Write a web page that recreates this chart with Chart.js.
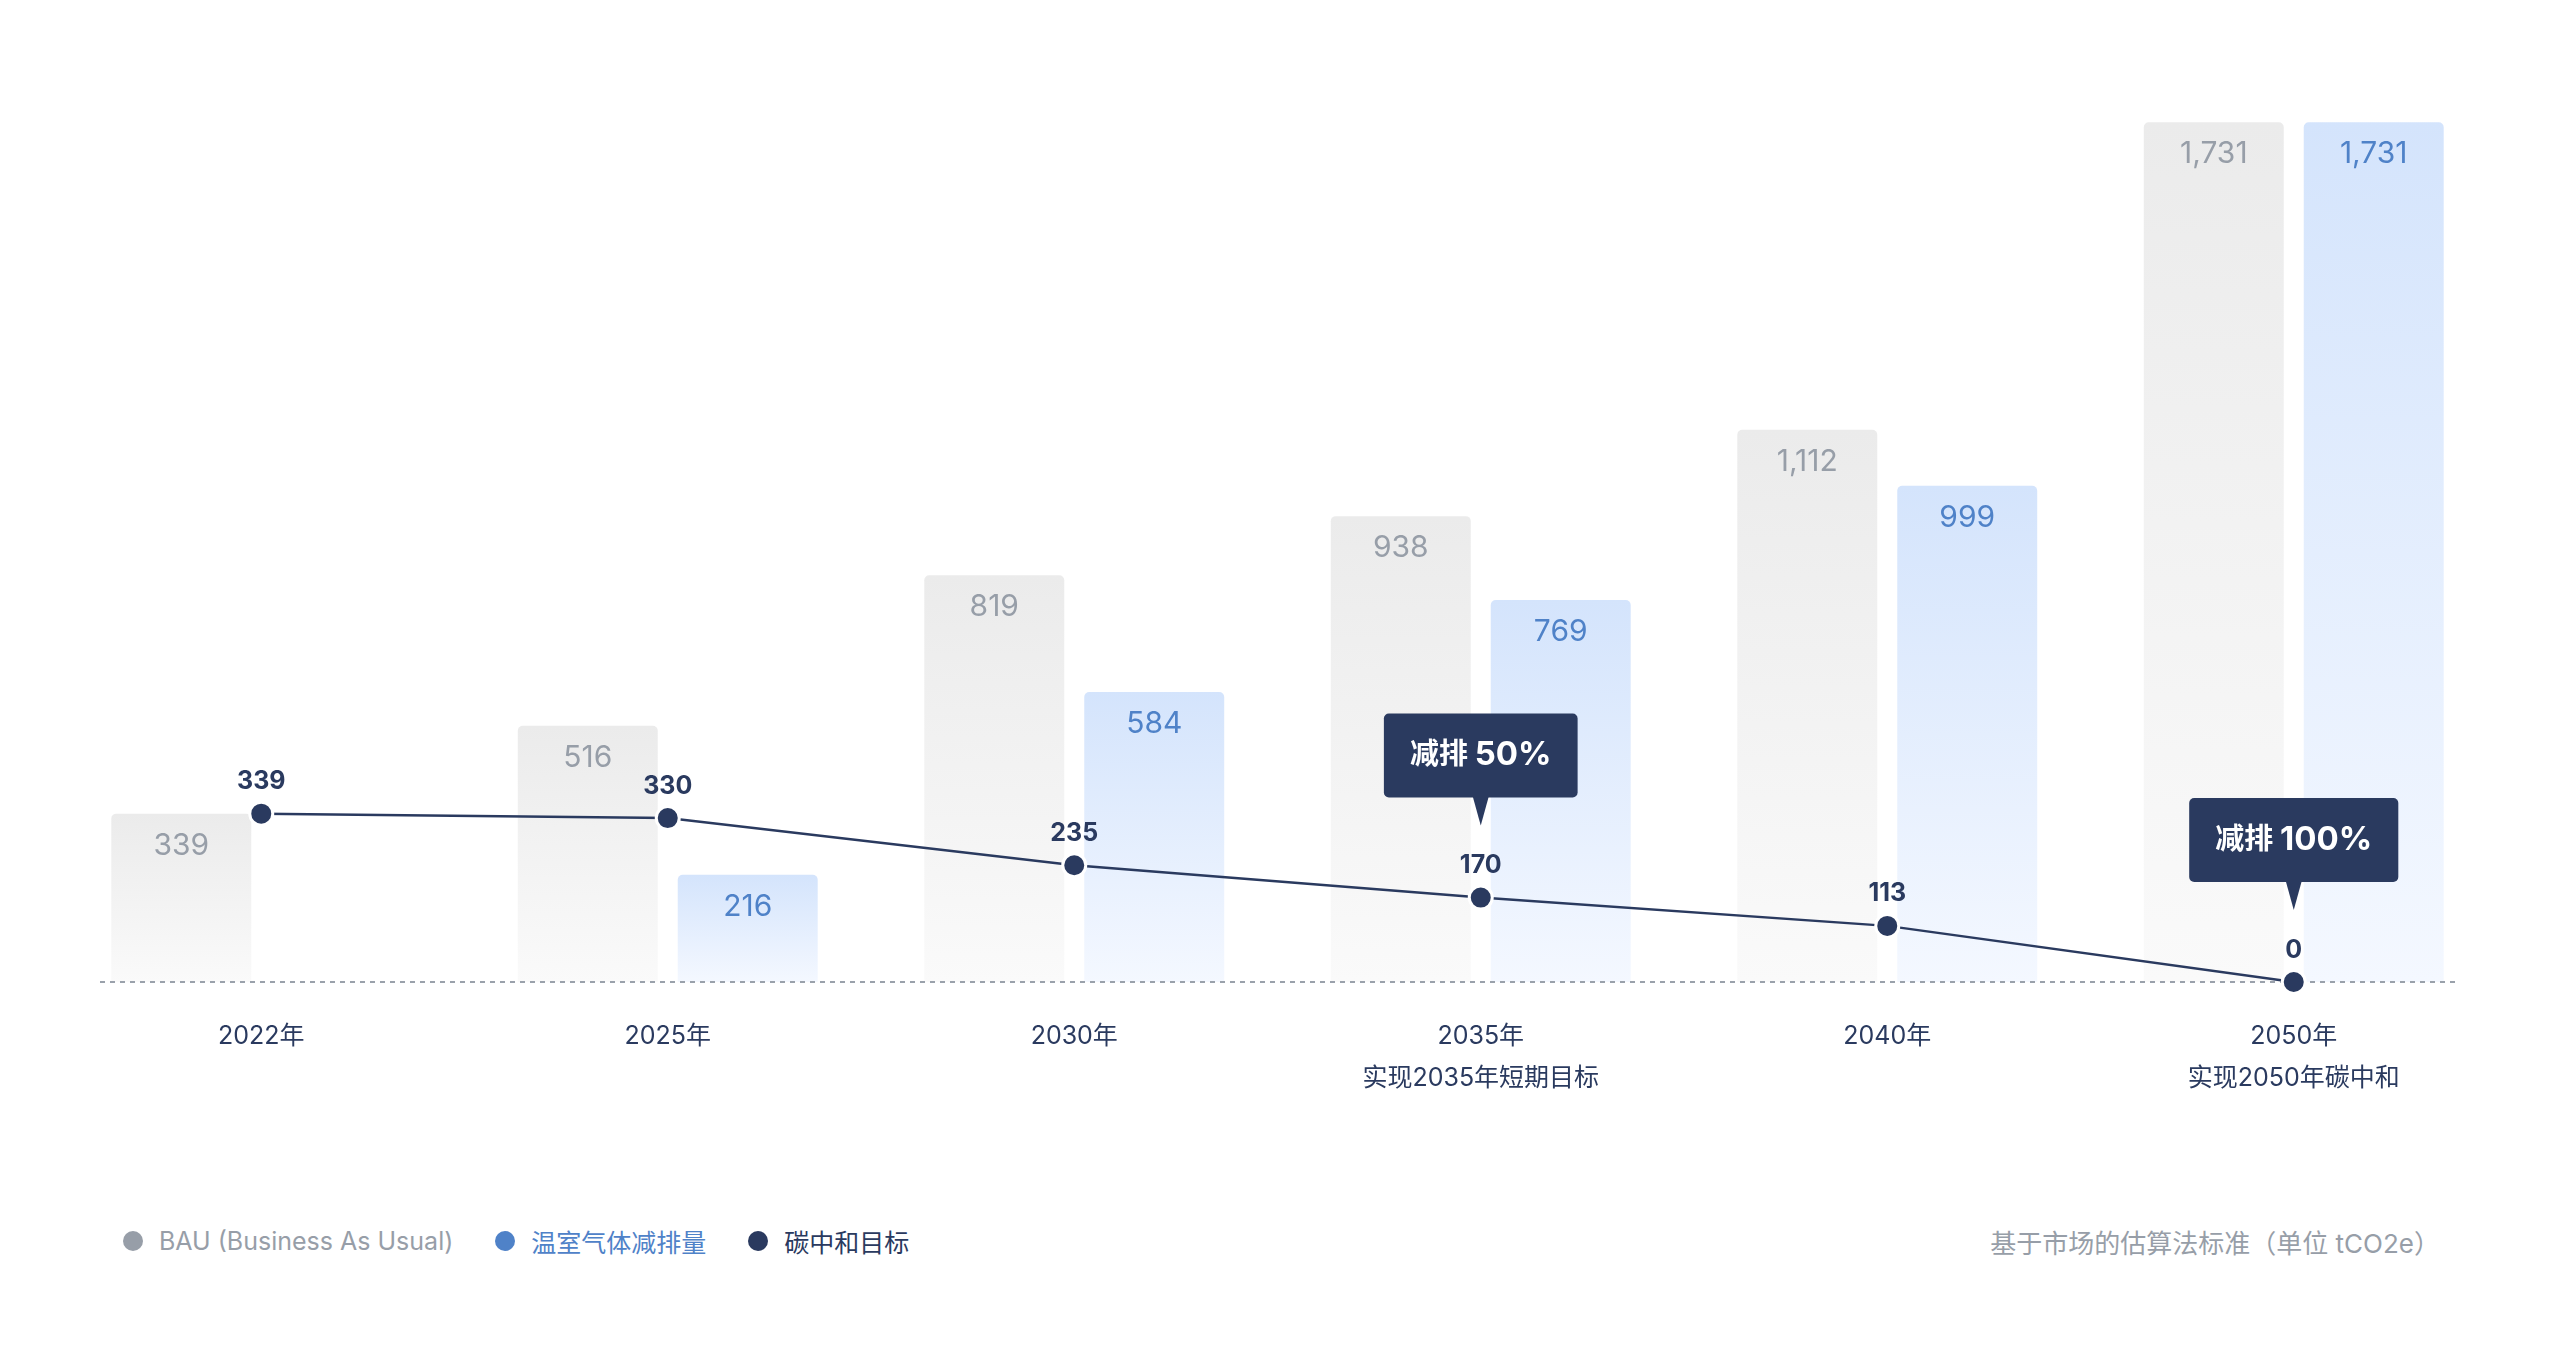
<!DOCTYPE html>
<html>
<head>
<meta charset="utf-8">
<script src="https://cdn.jsdelivr.net/npm/chart.js@4"></script>
<style>
  html, body { margin: 0; padding: 0; background: #fff; }
  body { width: 2560px; height: 1348px; position: relative; overflow: hidden;
         font-family: Inter, "Noto Sans CJK SC", sans-serif; }
  #wrap { position: absolute; left: 0; top: 0; width: 2560px; height: 1160px; }
  .legend { position: absolute; left: 123px; top: 1223px; display: flex; align-items: center; font-size: 25px; }
  .legend span.item { display: flex; align-items: center; margin-right: 42px; }
  .legend i { display: inline-block; width: 20px; height: 20px; border-radius: 50%; margin-right: 16px; }
  .note { position: absolute; right: 120px; top: 1223px; font-size: 26px; color: #979ea8; }
</style>
</head>
<body>
<div id="wrap"><canvas id="chart"></canvas></div>
<div class="legend">
  <span class="item" style="color:#979ea8"><i style="background:#979ea8"></i>BAU (Business As Usual)</span>
  <span class="item" style="color:#4f82c8"><i style="background:#4f82c8"></i>温室气体减排量</span>
  <span class="item" style="color:#2a3a5f"><i style="background:#2a3a5f"></i>碳中和目标</span>
</div>
<div class="note">基于市场的估算法标准（单位 tCO2e）</div>

<script>
// data
const years = ['2022年', '2025年', '2030年', '2035年', '2040年', '2050年'];
const subLabels = ['', '', '', '实现2035年短期目标', '', '实现2050年碳中和'];
const bauValues = [339, 516, 819, 938, 1112, 1731];
const reductionValues = [null, 216, 584, 769, 999, 1731];
const targetValues = [339, 330, 235, 170, 113, 0];
const callouts = [
  { index: 3, pre: '减排 ', big: '50%' },
  { index: 5, pre: '减排 ', big: '100%' }
];

const navy = '#2a3a5f';
const grayText = '#979ea8';
const blueText = '#4f82c8';
const fontFam = 'Inter, "Noto Sans CJK SC", sans-serif';

const labels = years.map((y, i) => subLabels[i] ? [y, subLabels[i]] : [y]);

// gradient per bar, from its top down to the baseline
function barGradient(top, bottom) {
  return (ctx) => {
    const chart = ctx.chart;
    if (!chart.chartArea || ctx.raw == null) return top;
    const y = chart.scales.y;
    const g = chart.ctx.createLinearGradient(0, y.getPixelForValue(ctx.raw), 0, y.getPixelForValue(0));
    g.addColorStop(0, top);
    g.addColorStop(1, bottom);
    return g;
  };
}

const fmt = (v) => v.toLocaleString('en-US');

const overlay = {
  id: 'overlay',
  afterDatasetDraw(chart, args) {
    if (args.index !== 0) return;
    // dashed baseline, drawn after the bars and under the line
    const c = chart.ctx;
    const y0 = chart.scales.y.getPixelForValue(0);
    c.save();
    c.strokeStyle = '#9aa1ab';
    c.lineWidth = 2;
    c.setLineDash([5, 5]);
    c.beginPath();
    c.moveTo(100, y0);
    c.lineTo(2460, y0);
    c.stroke();
    c.restore();
  },
  afterDatasetsDraw(chart) {
    const c = chart.ctx;
    c.save();
    c.textAlign = 'center';
    c.textBaseline = 'middle';
    // bar labels
    [[0, grayText], [1, blueText]].forEach(([di, color]) => {
      const meta = chart.getDatasetMeta(di);
      const data = chart.data.datasets[di].data;
      c.fillStyle = color;
      c.font = '30px ' + fontFam;
      meta.data.forEach((bar, i) => {
        if (data[i] == null) return;
        c.fillText(fmt(data[i]), bar.x, bar.y + 32);
      });
    });
    // line labels
    const lm = chart.getDatasetMeta(2);
    c.fillStyle = navy;
    c.font = 'bold 25px ' + fontFam;
    lm.data.forEach((p, i) => {
      c.fillText(String(targetValues[i]), p.x, p.y - 32);
    });
    // callouts
    callouts.forEach((co) => {
      const p = lm.data[co.index];
      c.font = 'bold 29px ' + fontFam;
      const w1 = c.measureText(co.pre).width;
      c.font = 'bold 33px ' + fontFam;
      const w2 = c.measureText(co.big).width;
      const bw = w1 + w2 + 52;
      const bh = 84;
      const bx = p.x - bw / 2;
      const by = p.y - 100 - bh;
      c.fillStyle = navy;
      c.beginPath();
      c.roundRect(bx, by, bw, bh, 5);
      c.fill();
      c.beginPath();
      c.moveTo(p.x - 8, by + bh - 1);
      c.lineTo(p.x + 8, by + bh - 1);
      c.lineTo(p.x, p.y - 72);
      c.closePath();
      c.fill();
      c.fillStyle = '#ffffff';
      c.textAlign = 'left';
      const tx = p.x - (w1 + w2) / 2;
      c.font = 'bold 29px ' + fontFam;
      c.fillText(co.pre, tx, by + bh / 2);
      c.font = 'bold 33px ' + fontFam;
      c.fillText(co.big, tx + w1, by + bh / 2);
      c.textAlign = 'center';
    });
    c.restore();
  }
};

new Chart(document.getElementById('chart'), {
  data: {
    labels: labels,
    datasets: [
      {
        type: 'bar',
        label: 'BAU (Business As Usual)',
        data: bauValues,
        backgroundColor: barGradient('#ebebeb', '#fafafa'),
        borderRadius: { topLeft: 5, topRight: 5 },
        borderSkipped: 'bottom',
        categoryPercentage: 0.787,
        barPercentage: 0.875,
        order: 1
      },
      {
        type: 'bar',
        label: '温室气体减排量',
        data: reductionValues,
        backgroundColor: barGradient('#d4e4fc', '#f4f8ff'),
        borderRadius: { topLeft: 5, topRight: 5 },
        borderSkipped: 'bottom',
        categoryPercentage: 0.787,
        barPercentage: 0.875,
        order: 2
      },
      {
        type: 'line',
        label: '碳中和目标',
        data: targetValues,
        borderColor: navy,
        borderWidth: 2.5,
        pointRadius: 11.5,
        pointHoverRadius: 11.5,
        pointBackgroundColor: navy,
        pointBorderColor: '#ffffff',
        pointBorderWidth: 3,
        tension: 0,
        clip: false,
        order: 0
      }
    ]
  },
  options: {
    responsive: true,
    maintainAspectRatio: false,
    animation: false,
    layout: { padding: { top: 88, left: 58, right: 63, bottom: 28 } },
    scales: {
      x: {
        grid: { display: false, drawTicks: false },
        border: { display: false },
        ticks: {
          color: navy,
          padding: 33,
          maxRotation: 0,
          font: { size: 25, family: fontFam, lineHeight: 1.68 }
        }
      },
      y: {
        display: false,
        min: 0,
        max: 1800
      }
    },
    plugins: {
      legend: { display: false },
      tooltip: { enabled: false }
    }
  },
  plugins: [overlay]
});
</script>
</body>
</html>
